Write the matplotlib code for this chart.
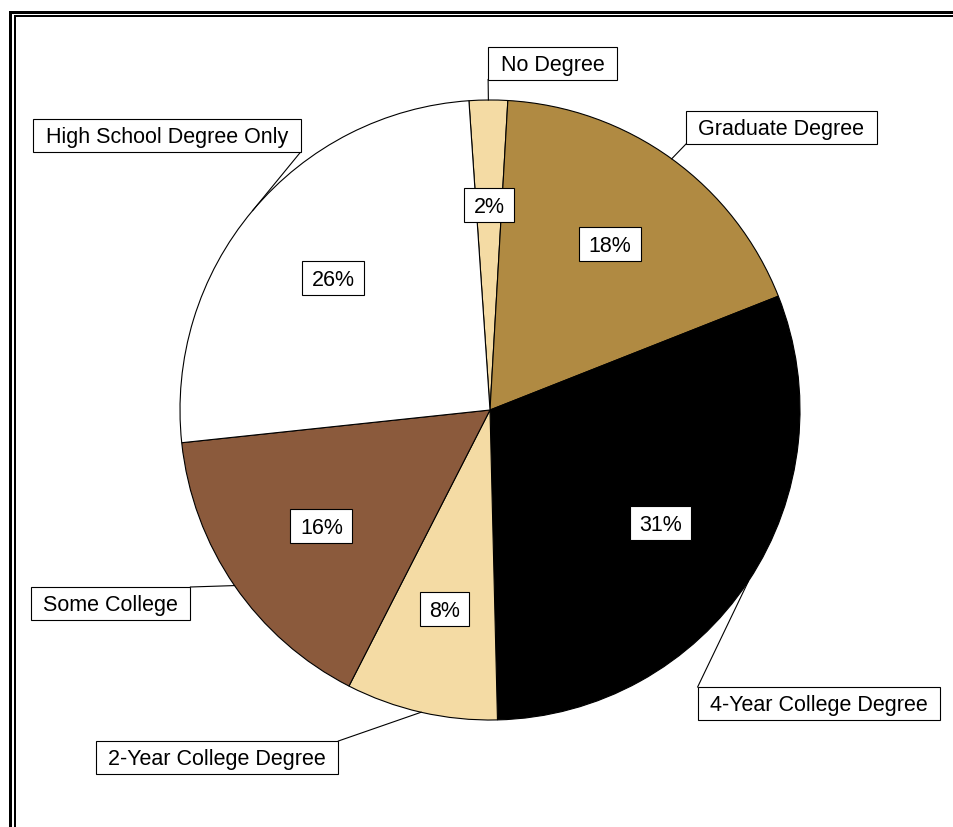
import matplotlib
matplotlib.use('Agg')
import matplotlib.pyplot as plt
import numpy as np
from matplotlib.patches import Rectangle

categories = ['No Degree', 'Graduate Degree', '4-Year College Degree',
              '2-Year College Degree', 'Some College', 'High School Degree Only']
shares = [2.0, 18.1, 30.6, 7.9, 15.8, 25.6]
colors = ['#F4DBA4', '#B08A42', '#000000', '#F4DBA4', '#8B5A3C', '#FFFFFF']

# layout (pixel positions, y measured from top)
W, H = 954, 827
center_px = (490, 410)
radius_px = 310
label_centers = [(552.5, 63), (781.5, 127.5), (819, 703.5),
                 (217, 757.5), (110.5, 603.5), (167, 135.5)]
label_corners = ['bl', 'bl', 'tl', 'tr', 'tr', 'br']

plt.rcParams['font.family'] = ['Liberation Sans', 'DejaVu Sans']
FS = 15.5
CAP = 0.716 * FS * 100 / 72
LBL_PADX, LBL_H = 12.5, 33
PCT_PADX, PCT_H = 9.5, 34


def py(y):
    return H - y


fig = plt.figure(figsize=(W / 100, H / 100), dpi=100)
ax = fig.add_axes([0, 0, 1, 1])

wedges, texts, autotexts = ax.pie(
    shares, colors=colors, startangle=93.9, counterclock=False,
    center=(center_px[0], py(center_px[1])), radius=radius_px,
    autopct='%.0f%%', pctdistance=0.66,
    wedgeprops=dict(edgecolor='black', linewidth=0.8),
    textprops=dict(fontsize=FS, color='black'))

ax.set_xlim(0, W)
ax.set_ylim(0, H)
ax.set_aspect('auto')
ax.axis('off')

# frame (double border)
ax.add_patch(Rectangle((10.5, -100), 3000, py(11.5) + 100, fill=False,
                       edgecolor='black', linewidth=2.16))
ax.add_patch(Rectangle((15, -100), 3000, py(16) + 100, fill=False,
                       edgecolor='black', linewidth=1.44))

pct_centers = []
for t in autotexts:
    x, y = t.get_position()
    pct_centers.append((x, y))
    t.set_position((x, y - CAP / 2))
    t.set_va('baseline')
    t.set_zorder(4)

label_texts = []
for name, (cx, cy) in zip(categories, label_centers):
    t = ax.text(cx, py(cy) - CAP / 2, name, ha='center', va='baseline',
                fontsize=FS, color='black', zorder=4)
    label_texts.append(t)

fig.canvas.draw()
renderer = fig.canvas.get_renderer()


def add_box(t, cx, cy, padx, h):
    bb = t.get_window_extent(renderer)
    w = bb.width + 2 * padx
    ax.add_patch(Rectangle((cx - w / 2, cy - h / 2), w, h, facecolor='white',
                           edgecolor='black', linewidth=0.8, zorder=3))
    return cx - w / 2, cy - h / 2, cx + w / 2, cy + h / 2


for t, (cx, cy) in zip(autotexts, pct_centers):
    add_box(t, cx, cy, PCT_PADX, PCT_H)

for w, t, (cx, cy), corner in zip(wedges, label_texts, label_centers, label_corners):
    x0, y0, x1, y1 = add_box(t, cx, py(cy), LBL_PADX, LBL_H)
    mid = np.deg2rad((w.theta1 + w.theta2) / 2)
    ax_x = center_px[0] + radius_px * np.cos(mid)
    ax_y = py(center_px[1]) + radius_px * np.sin(mid)
    bx = x0 if corner[1] == 'l' else x1
    by = y0 if corner[0] == 'b' else y1
    ax.plot([ax_x, bx], [ax_y, by], color='black', linewidth=0.8, zorder=2)

fig.savefig('out.png', dpi=100)
